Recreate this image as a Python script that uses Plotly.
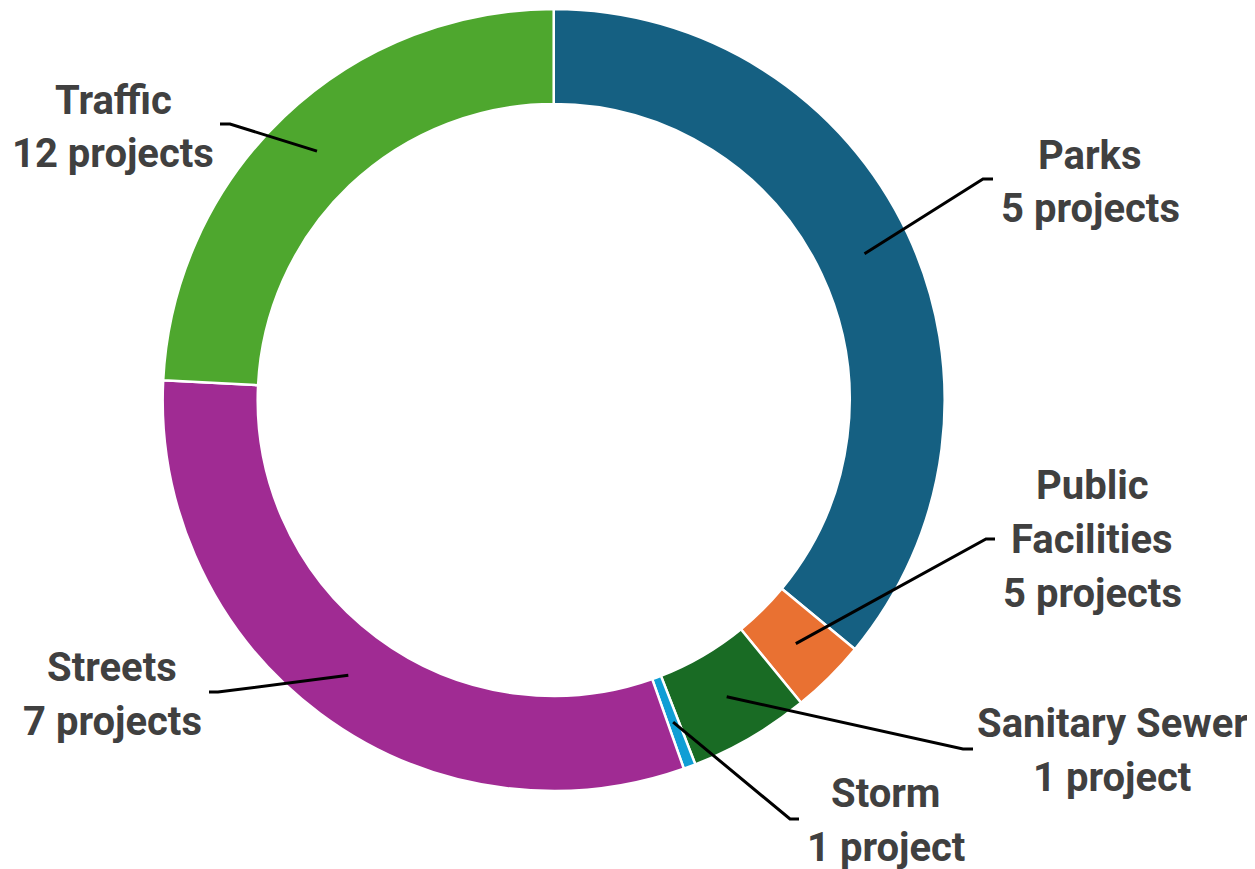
import numpy as np
import plotly.graph_objects as go

# ---- data ----
categories = ["Parks", "Public Facilities", "Sanitary Sewer", "Storm", "Streets", "Traffic"]
shares = [36.0, 3.1, 5.0, 0.5, 31.2, 24.2]          # share of the ring (%)
project_counts = [5, 5, 1, 1, 7, 12]
label_lines = [
    ["Parks"],
    ["Public", "Facilities"],
    ["Sanitary Sewer"],
    ["Storm"],
    ["Streets"],
    ["Traffic"],
]
colors = ["#156082", "#E97132", "#196B24", "#0F9ED5", "#A02B93", "#4EA72E"]

# ---- layout constants (pixels, window coordinates) ----
OFF = 8  # page body margin
W, H = 1255 - OFF, 869 - OFF
CX, CY, R_OUT = 553.7, 400.0, 391.0
HOLE = 0.757
R_MID = R_OUT * (1 + HOLE) / 2
label_centers = [(1090, 182), (1092, 539), (1112, 750), (886, 820), (112, 694), (113, 127)]
elbows = [((983, 179), (993, 179)), ((986, 539), (995, 539)), ((963, 749), (973, 749)),
          ((790, 819), (799, 819)), ((218, 692), (209, 692)), ((230, 124), (220, 124))]
LINE_H = 54
FONT = dict(family="Roboto", size=40, color="#404040", weight="bold")


def px(x):
    return (x - OFF) / W


def py(y):
    return 1 - (y - OFF) / H


fig = go.Figure(go.Pie(
    labels=categories, values=shares, sort=False, direction="clockwise", rotation=0,
    hole=HOLE, textinfo="none", hoverinfo="label+value",
    marker=dict(colors=colors, line=dict(color="white", width=2.5)),
    domain=dict(x=[px(CX - R_OUT), px(CX + R_OUT)], y=[py(CY + R_OUT), py(CY - R_OUT)]),
    showlegend=False,
))

total = sum(shares)
cum = np.cumsum([0] + shares)
annotations = []
shapes = []
for i, cat in enumerate(categories):
    mid = np.deg2rad((cum[i] + cum[i + 1]) / 2 / total * 360)
    sx = CX + R_MID * np.sin(mid)
    sy = CY - R_MID * np.cos(mid)
    (ex, ey), (tx, ty) = elbows[i]
    path = f"M {px(sx)},{py(sy)} L {px(ex)},{py(ey)} L {px(tx)},{py(ty)}"
    shapes.append(dict(type="path", xref="paper", yref="paper", path=path,
                       line=dict(color="black", width=3)))
    n = project_counts[i]
    lines = label_lines[i] + [f"{n} project" + ("s" if n != 1 else "")]
    lx, ly = label_centers[i]
    y0 = ly - (len(lines) - 1) * LINE_H / 2
    for k, t in enumerate(lines):
        annotations.append(dict(text=t, x=px(lx), y=py(y0 + k * LINE_H), xref="paper", yref="paper",
                                xanchor="center", yanchor="middle", showarrow=False, font=FONT))

fig.update_layout(width=W, height=H, margin=dict(l=0, r=0, t=0, b=0),
                  paper_bgcolor="white", plot_bgcolor="white",
                  annotations=annotations, shapes=shapes)
fig.write_html("out.html")
